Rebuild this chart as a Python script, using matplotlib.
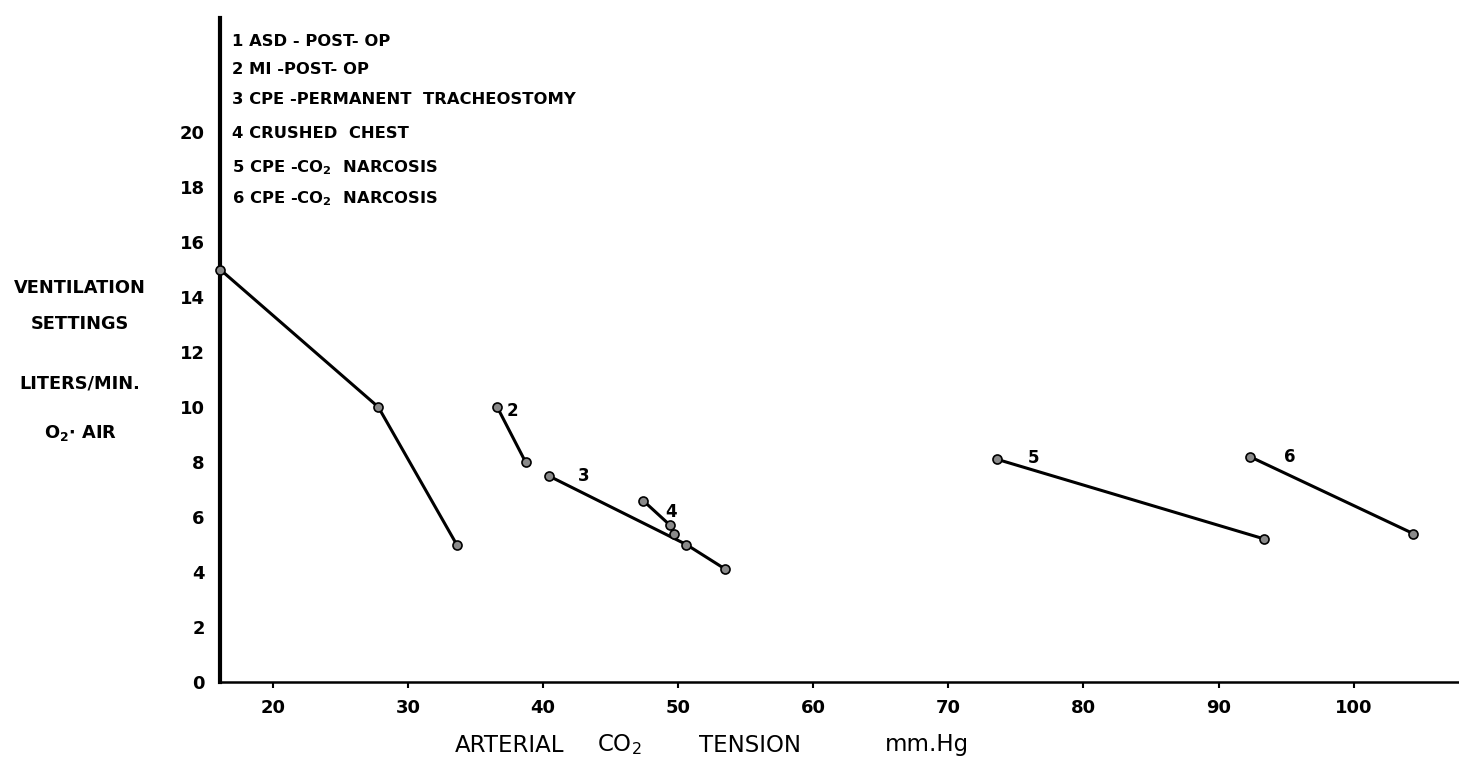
import matplotlib
matplotlib.use("Agg")
import matplotlib.pyplot as plt

plt.rcParams['font.family'] = ['DejaVu Sans']
plt.rcParams['mathtext.default'] = 'regular'

# Ventilation (liters/min) against arterial CO2 tension (mm Hg), one line per patient
s1_x = [16.1, 27.8, 33.6]
s1_y = [15.0, 10.0, 5.0]
s2_x = [36.6, 38.7]
s2_y = [10.0, 8.0]
s3_x = [40.4, 50.6, 53.5]
s3_y = [7.5, 5.0, 4.1]
s4_x = [47.4, 49.4, 49.7]
s4_y = [6.6, 5.7, 5.4]
s5_x = [73.6, 93.4]
s5_y = [8.1, 5.2]
s6_x = [92.3, 104.4]
s6_y = [8.2, 5.4]
series = [(s1_x, s1_y), (s2_x, s2_y), (s3_x, s3_y),
          (s4_x, s4_y), (s5_x, s5_y), (s6_x, s6_y)]

# number tags written next to the lines
tag_text = ["2", "3", "4", "5", "6"]
tag_x = [37.7, 43.0, 49.5, 76.3, 95.3]
tag_y = [9.85, 7.5, 6.2, 8.15, 8.2]

legend_lines = ["1 ASD - POST- OP",
                "2 MI -POST- OP",
                "3 CPE -PERMANENT  TRACHEOSTOMY",
                "4 CRUSHED  CHEST",
                r"5 CPE -CO$_\mathbf{2}$  NARCOSIS",
                r"6 CPE -CO$_\mathbf{2}$  NARCOSIS"]

x_ticks = [20, 30, 40, 50, 60, 70, 80, 90, 100]
y_ticks = [0, 2, 4, 6, 8, 10, 12, 14, 16, 18, 20]

W, H = 1459, 763
fig = plt.figure(figsize=(W / 100, H / 100), dpi=100)
ax = fig.add_axes([220 / W, 1 - 682 / H, (W - 220) / W, (682 - 18) / H])

for xs, ys in series:
    ax.plot(xs, ys, color="black", lw=2.2, marker="o", ms=6.5,
            mfc="#8a8a8a", mec="black", mew=1.2, clip_on=False, zorder=3)

for t, x, y in zip(tag_text, tag_x, tag_y):
    ax.text(x, y, t, fontsize=12, fontweight="bold", ha="center", va="center")

ax.set_xlim(16.08, 107.8)
ax.set_ylim(0, 24.15)
ax.set_xticks(x_ticks)
ax.set_yticks(y_ticks)
ax.tick_params(axis="x", direction="out", length=4, width=1.5, pad=8,
               labelsize=13)
ax.tick_params(axis="y", length=0, pad=11, labelsize=13)
for lab in ax.get_xticklabels() + ax.get_yticklabels():
    lab.set_fontweight("bold")

for side in ["top", "right"]:
    ax.spines[side].set_visible(False)
ax.spines["left"].set_linewidth(3.0)
ax.spines["bottom"].set_linewidth(1.8)

# legend block inside the plot, top left
for line, yp in zip(legend_lines, [42, 69, 100, 134, 168, 199]):
    fig.text(232 / W, 1 - yp / H, line, fontsize=11.8, fontweight="bold",
             ha="left", va="center")

# y axis caption
for line, yp in zip(["VENTILATION", "SETTINGS", "LITERS/MIN.", r"O$_\mathbf{2}$$\bullet$ AIR"],
                    [288, 324, 383, 433]):
    fig.text(80 / W, 1 - yp / H, line, fontsize=12.8, fontweight="bold",
             ha="center", va="center")

# x axis caption, spread out like the original lettering
for word, xp in zip(["ARTERIAL", r"CO$_2$", "TENSION", "mm.Hg"],
                    [455, 597, 699, 885]):
    fig.text(xp / W, 1 - 745 / H, word, fontsize=16.5, ha="left", va="center")

fig.savefig("out.png", dpi=100)
